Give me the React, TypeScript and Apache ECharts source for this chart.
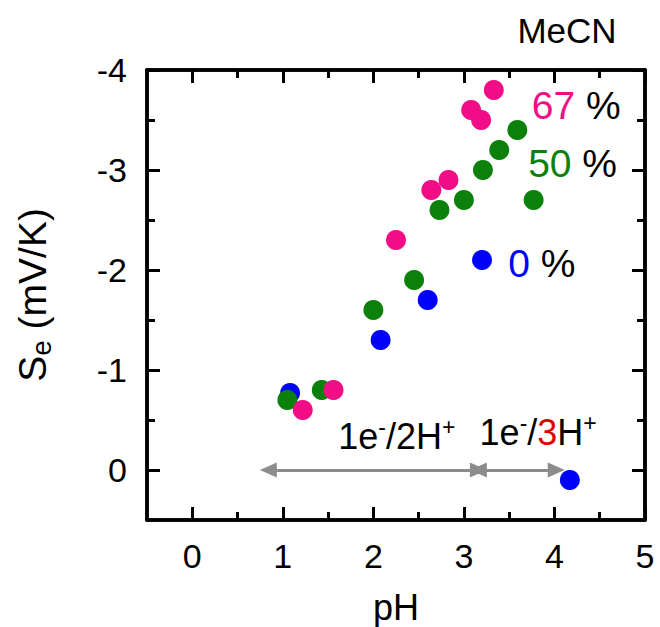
import React, { useEffect, useRef } from 'react';
import * as echarts from 'echarts';

// ---- data ----
const xTickValues = [0, 1, 2, 3, 4, 5];
const xMinorValues = [0.5, 1.5, 2.5, 3.5, 4.5];
const yTickValues = [-4, -3, -2, -1, 0];
const yMinorValues = [-3.5, -2.5, -1.5, -0.5];

// 0 % MeCN (blue)
const ph0 = [1.08, 2.08, 2.6, 3.2, 4.17];
const se0 = [-0.77, -1.3, -1.7, -2.1, 0.1];
// 50 % MeCN (green)
const ph50 = [1.05, 1.43, 2.0, 2.45, 2.73, 3.0, 3.21, 3.39, 3.59, 3.77];
const se50 = [-0.7, -0.8, -1.6, -1.9, -2.6, -2.7, -3.0, -3.2, -3.4, -2.7];
// 67 % MeCN (pink)
const ph67 = [1.22, 1.56, 2.25, 2.64, 2.83, 3.08, 3.19, 3.33];
const se67 = [-0.6, -0.8, -2.3, -2.8, -2.9, -3.6, -3.5, -3.8];

// pH ranges of the two regimes (arrows at Se = 0)
const regimeStart = [0.84, 3.16];
const regimeEnd = [3.16, 4.02];

const FONT = 'Arial, "Liberation Sans", sans-serif';
const BLUE = '#0000ff';
const GREEN = '#0b800b';
const PINK = '#f20c86';

const zip = (a: number[], b: number[]) => a.map((v, i) => [v, b[i]]);

function xAxisDef(position: 'top' | 'bottom', ticks: number[], len: number, labels: boolean, extra: any = {}) {
  return {
    type: 'value',
    position,
    min: -0.5,
    max: 5,
    axisLine: { show: true, onZero: false, lineStyle: { color: '#000', width: 3.5 } },
    axisTick: { show: true, inside: true, length: len, customValues: ticks, lineStyle: { color: '#000', width: 3 } },
    axisLabel: labels
      ? { show: true, customValues: xTickValues, fontSize: 34, color: '#000', fontFamily: FONT, margin: 19 }
      : { show: false },
    splitLine: { show: false },
    ...extra,
  };
}

function yAxisDef(position: 'left' | 'right', ticks: number[], len: number, labels: boolean, extra: any = {}) {
  return {
    type: 'value',
    position,
    inverse: true,
    min: -4,
    max: 0.5,
    axisLine: { show: true, onZero: false, lineStyle: { color: '#000', width: 3.5 } },
    axisTick: { show: true, inside: true, length: len, customValues: ticks, lineStyle: { color: '#000', width: 3 } },
    axisLabel: labels
      ? { show: true, customValues: yTickValues, fontSize: 34, color: '#000', fontFamily: FONT, margin: 20 }
      : { show: false },
    splitLine: { show: false },
    ...extra,
  };
}

export default function App() {
  const ref = useRef<HTMLDivElement>(null);
  useEffect(() => {
    const chart = echarts.init(ref.current!, null, { renderer: 'svg' });
    const supRich = {
      n: { fontSize: 36, lineHeight: 42, color: '#000', fontFamily: FONT, verticalAlign: 'middle' },
      r: { fontSize: 36, lineHeight: 42, color: '#e00000', fontFamily: FONT, verticalAlign: 'middle' },
      s: { fontSize: 23, lineHeight: 32, color: '#000', fontFamily: FONT, verticalAlign: 'top' },
    };
    const pctRich = (color: string) => ({
      c: { fontSize: 39, color, fontFamily: FONT },
      p: { fontSize: 39, color: '#000', fontFamily: FONT },
    });
    const option: any = {
      animation: false,
      grid: { left: 147, right: 15, top: 70, bottom: 107, containLabel: false, outerBoundsMode: 'none' },
      xAxis: [
        xAxisDef('bottom', xTickValues, 13, true, {
          name: 'pH',
          nameLocation: 'middle',
          nameGap: 72,
          nameTextStyle: { fontSize: 36, lineHeight: 30, color: '#000', fontFamily: FONT },
        }),
        xAxisDef('bottom', xMinorValues, 8, false),
        xAxisDef('top', xTickValues, 13, false),
        xAxisDef('top', xMinorValues, 8, false),
      ],
      yAxis: [
        yAxisDef('left', yTickValues, 13, true, {
          name: '{a|S}{b|e}{a| (mV/K)}',
          nameLocation: 'middle',
          nameGap: 92,
          nameTextStyle: {
            fontSize: 39,
            color: '#000',
            fontFamily: FONT,
            rich: {
              a: { fontSize: 39, lineHeight: 46, color: '#000', fontFamily: FONT, verticalAlign: 'middle' },
              b: { fontSize: 28, lineHeight: 28, color: '#000', fontFamily: FONT, verticalAlign: 'bottom' },
            },
          },
        }),
        yAxisDef('left', yMinorValues, 8, false),
        yAxisDef('right', yTickValues, 13, false),
        yAxisDef('right', yMinorValues, 8, false),
      ],
      series: [
        {
          type: 'scatter',
          name: '0 %',
          symbolSize: 20,
          itemStyle: { color: BLUE, opacity: 1 },
          data: zip(ph0, se0),
          z: 3,
        },
        {
          type: 'scatter',
          name: '50 %',
          symbolSize: 20,
          itemStyle: { color: GREEN, opacity: 1 },
          data: zip(ph50, se50),
          z: 4,
        },
        {
          type: 'scatter',
          name: '67 %',
          symbolSize: 20,
          itemStyle: { color: PINK, opacity: 1 },
          data: zip(ph67, se67),
          z: 5,
        },
        {
          type: 'scatter',
          name: 'annotations',
          data: [],
          z: 2,
          markLine: {
            silent: true,
            symbol: ['triangle', 'triangle'],
            symbolSize: [15, 17],
            label: { show: false },
            lineStyle: { color: '#8c8c8c', width: 3, type: 'solid' },
            emphasis: { disabled: true },
            data: regimeStart.map((s, i) => [{ coord: [s, 0] }, { coord: [regimeEnd[i], 0] }]),
          },
          markPoint: {
            silent: true,
            symbol: 'circle',
            symbolSize: 0,
            itemStyle: { color: 'transparent' },
            data: [
              {
                coord: [2.26, -0.34],
                label: { show: true, position: 'inside', formatter: '{n|1e}{s|-}{n|/2H}{s|+}', rich: supRich },
              },
              {
                coord: [3.82, -0.375],
                label: { show: true, position: 'inside', formatter: '{n|1e}{s|-}{n|/}{r|3}{n|H}{s|+}', rich: supRich },
              },
              {
                coord: [4.24, -3.65],
                label: { show: true, position: 'inside', formatter: '{c|67}{p| %}', rich: pctRich(PINK) },
              },
              {
                coord: [4.2, -3.07],
                label: { show: true, position: 'inside', formatter: '{c|50}{p| %}', rich: pctRich(GREEN) },
              },
              {
                coord: [3.86, -2.07],
                label: { show: true, position: 'inside', formatter: '{c|0}{p| %}', rich: pctRich(BLUE) },
              },
            ],
          },
        },
      ],
      graphic: [
        {
          type: 'text',
          x: 567,
          y: 30,
          style: {
            text: 'MeCN',
            fontSize: 35,
            fontFamily: FONT,
            fill: '#000',
            align: 'center',
            verticalAlign: 'middle',
          },
        },
      ],
    };
    chart.setOption(option);
    return () => chart.dispose();
  }, []);
  return (
    <div
      ref={ref}
      style={{ position: 'absolute', left: 0, top: 0, width: 660, height: 627, background: '#fff' }}
    />
  );
}
